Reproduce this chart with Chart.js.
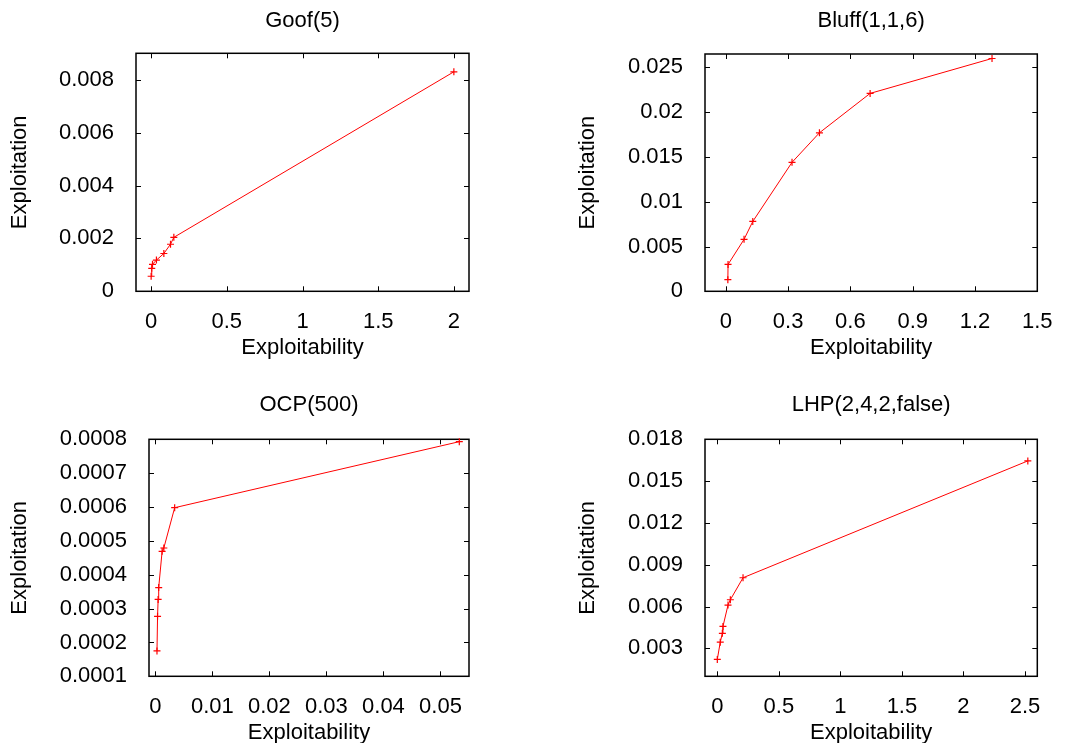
<!DOCTYPE html>
<html lang="en">
<head>
<meta charset="UTF-8">
<title>Exploitation vs Exploitability</title>
<script src="https://cdn.jsdelivr.net/npm/chart.js"></script>
<style>
  html, body { margin: 0; padding: 0; background: #fff; overflow: hidden; }
  #page { position: relative; width: 1070px; height: 743px; overflow: hidden; }
  #page canvas { position: absolute; }
</style>
</head>
<body>
<div id="page">
  <canvas id="goof"></canvas>
  <canvas id="bluff"></canvas>
  <canvas id="ocp"></canvas>
  <canvas id="lhp"></canvas>
</div>

<script>
// Goof(5)
var goofX = [0, 0.004, 0.009, 0.035, 0.084, 0.128, 0.150, 2.0];
var goofY = [0.00057, 0.00087, 0.00102, 0.00118, 0.00143, 0.00178, 0.00204, 0.0083];
var goofXTicks = [0, 0.5, 1, 1.5, 2];
var goofXLabels = ['0', '0.5', '1', '1.5', '2'];
var goofYTicks = [0, 0.002, 0.004, 0.006, 0.008];
var goofYLabels = ['0', '0.002', '0.004', '0.006', '0.008'];

// Bluff(1,1,6)
var bluffX = [0.010, 0.011, 0.088, 0.130, 0.319, 0.451, 0.695, 1.282];
var bluffY = [0.0013, 0.0030, 0.0058, 0.0078, 0.0144, 0.0177, 0.0221, 0.0260];
var bluffXTicks = [0, 0.3, 0.6, 0.9, 1.2, 1.5];
var bluffXLabels = ['0', '0.3', '0.6', '0.9', '1.2', '1.5'];
var bluffYTicks = [0, 0.005, 0.01, 0.015, 0.02, 0.025];
var bluffYLabels = ['0', '0.005', '0.01', '0.015', '0.02', '0.025'];

// OCP(500)
var ocpX = [0.0003, 0.0004, 0.0005, 0.0006, 0.0012, 0.0015, 0.0034, 0.0533];
var ocpY = [0.000175, 0.000277, 0.000327, 0.000362, 0.000469, 0.000479, 0.000598, 0.000793];
var ocpXTicks = [0, 0.01, 0.02, 0.03, 0.04, 0.05];
var ocpXLabels = ['0', '0.01', '0.02', '0.03', '0.04', '0.05'];
var ocpYTicks = [0.0001, 0.0002, 0.0003, 0.0004, 0.0005, 0.0006, 0.0007, 0.0008];
var ocpYLabels = ['0.0001', '0.0002', '0.0003', '0.0004', '0.0005', '0.0006', '0.0007', '0.0008'];

// LHP(2,4,2,false)
var lhpX = [0, 0.024, 0.041, 0.046, 0.087, 0.106, 0.209, 2.523];
var lhpY = [0.00221, 0.00345, 0.00408, 0.00458, 0.00611, 0.00649, 0.00807, 0.01645];
var lhpXTicks = [0, 0.5, 1, 1.5, 2, 2.5];
var lhpXLabels = ['0', '0.5', '1', '1.5', '2', '2.5'];
var lhpYTicks = [0.003, 0.006, 0.009, 0.012, 0.015, 0.018];
var lhpYLabels = ['0.003', '0.006', '0.009', '0.012', '0.015', '0.018'];

Chart.defaults.font.family = "'Liberation Sans', Arial, sans-serif";
Chart.defaults.font.size = 22;
Chart.defaults.color = '#000';

// gnuplot style: box round the plot, ticks pointing inwards on all sides
var frameTicks = {
    id: 'frameTicks',
    beforeDatasetsDraw(chart) {
        const ctx = chart.ctx;
        const a = chart.chartArea;
        const x = chart.scales.x;
        const y = chart.scales.y;
        const len = 5;
        ctx.save();
        ctx.strokeStyle = '#000';
        ctx.lineWidth = 1;
        ctx.beginPath();
        x.ticks.forEach(t => {
            const px = Math.round(x.getPixelForValue(t.value)) + 0.5;
            ctx.moveTo(px, a.bottom); ctx.lineTo(px, a.bottom - len);
            ctx.moveTo(px, a.top); ctx.lineTo(px, a.top + len);
        });
        y.ticks.forEach(t => {
            const py = Math.round(y.getPixelForValue(t.value)) + 0.5;
            ctx.moveTo(a.left, py); ctx.lineTo(a.left + len, py);
            ctx.moveTo(a.right, py); ctx.lineTo(a.right - len, py);
        });
        ctx.stroke();
        ctx.lineWidth = 1.5;
        ctx.strokeRect(a.left, a.top, a.right - a.left, a.bottom - a.top);
        ctx.restore();
    }
};

var panels = [
    { id: 'goof', title: 'Goof(5)', xs: goofX, ys: goofY,
      xTicks: goofXTicks, xLabels: goofXLabels, yTicks: goofYTicks, yLabels: goofYLabels,
      xMin: -0.1, xMax: 2.1, yMin: 0, yMax: 0.009,
      left: 0, top: 0, width: 535, height: 371, yWidth: 136, padRight: 66,
      titlePad: { top: 7.8, bottom: 19.1 }, xHeight: 79.7, yTitlePad: 6.8 },
    { id: 'bluff', title: 'Bluff(1,1,6)', xs: bluffX, ys: bluffY,
      xTicks: bluffXTicks, xLabels: bluffXLabels, yTicks: bluffYTicks, yLabels: bluffYLabels,
      xMin: -0.1, xMax: 1.5, yMin: 0, yMax: 0.0265,
      left: 535, top: 0, width: 535, height: 371, yWidth: 170, padRight: 32.7,
      titlePad: { top: 7.8, bottom: 19.8 }, xHeight: 79.7, yTitlePad: 40.1 },
    { id: 'ocp', title: 'OCP(500)', xs: ocpX, ys: ocpY,
      xTicks: ocpXTicks, xLabels: ocpXLabels, yTicks: ocpYTicks, yLabels: ocpYLabels,
      xMin: -0.0011, xMax: 0.055, yMin: 0.0001, yMax: 0.0008,
      left: 0, top: 371, width: 535, height: 385, yWidth: 149, padRight: 66,
      titlePad: { top: 21.1, bottom: 20.8 }, xHeight: 79.7, yTitlePad: 6.8 },
    { id: 'lhp', title: 'LHP(2,4,2,false)', xs: lhpX, ys: lhpY,
      xTicks: lhpXTicks, xLabels: lhpXLabels, yTicks: lhpYTicks, yLabels: lhpYLabels,
      xMin: -0.1, xMax: 2.6, yMin: 0.001, yMax: 0.018,
      left: 535, top: 371, width: 535, height: 385, yWidth: 170, padRight: 32.7,
      titlePad: { top: 21.1, bottom: 20.8 }, xHeight: 79.7, yTitlePad: 40.1 }
];

function drawPanel(p) {
    const canvas = document.getElementById(p.id);
    canvas.width = p.width;
    canvas.height = p.height;
    canvas.style.left = p.left + 'px';
    canvas.style.top = p.top + 'px';

    const points = p.xs.map((x, i) => ({ x: x, y: p.ys[i] }));

    new Chart(canvas.getContext('2d'), {
        type: 'scatter',
        data: {
            datasets: [{
                data: points,
                showLine: true,
                borderColor: '#ff0000',
                backgroundColor: '#ff0000',
                borderWidth: 1,
                pointStyle: 'cross',
                pointRadius: 3.5,
                pointBorderWidth: 1.2,
                tension: 0,
                clip: false
            }]
        },
        options: {
            responsive: false,
            animation: false,
            layout: { padding: { left: 0, top: 0, right: p.padRight, bottom: 0 } },
            plugins: {
                legend: { display: false },
                tooltip: { enabled: false },
                title: {
                    display: true,
                    fullSize: false,
                    text: p.title,
                    color: '#000',
                    font: { size: 22, weight: 'normal' },
                    padding: p.titlePad
                }
            },
            scales: {
                x: {
                    type: 'linear',
                    min: p.xMin,
                    max: p.xMax,
                    grid: { display: false },
                    border: { display: false },
                    afterBuildTicks: s => { s.ticks = p.xTicks.map(v => ({ value: v })); },
                    afterFit: s => { s.height = p.xHeight; },
                    ticks: {
                        padding: 9.8,
                        maxRotation: 0,
                        callback: (v, i) => p.xLabels[i]
                    },
                    title: {
                        display: true,
                        text: 'Exploitability',
                        font: { size: 22 },
                        padding: { top: 0, bottom: 9.8 }
                    }
                },
                y: {
                    type: 'linear',
                    min: p.yMin,
                    max: p.yMax,
                    grid: { display: false },
                    border: { display: false },
                    afterBuildTicks: s => { s.ticks = p.yTicks.map(v => ({ value: v })); },
                    afterFit: s => { s.width = p.yWidth; },
                    ticks: {
                        padding: 14,
                        callback: (v, i) => p.yLabels[i]
                    },
                    title: {
                        display: true,
                        text: 'Exploitation',
                        font: { size: 22 },
                        padding: { top: p.yTitlePad, bottom: 0 }
                    }
                }
            }
        },
        plugins: [frameTicks]
    });
}

panels.forEach(drawPanel);
</script>
</body>
</html>
